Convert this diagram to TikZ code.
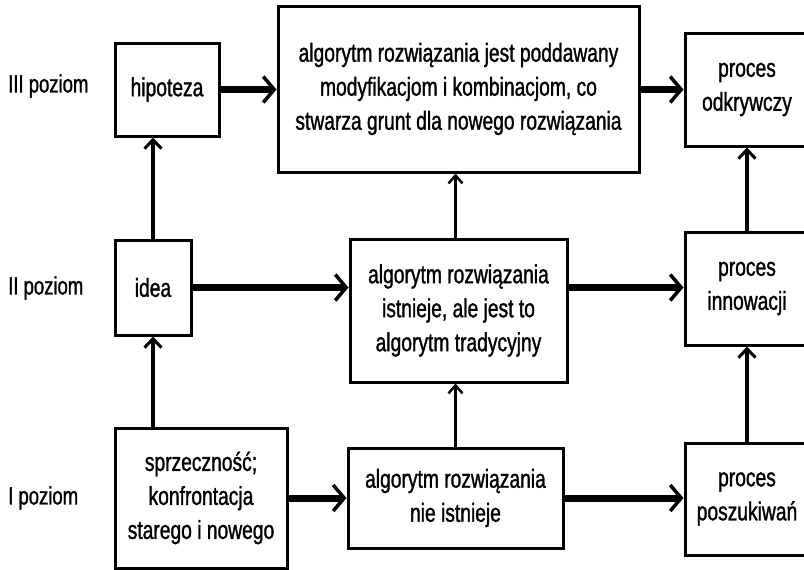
\documentclass[tikz,border=0pt]{standalone}
\usepackage{fontspec}
\setmainfont{Liberation Sans}[FakeStretch=0.74,FakeBold=1.2]
\usetikzlibrary{arrows.meta}
\begin{document}
\begin{tikzpicture}[x=1pt,y=-1pt,
  box/.style={draw,line width=3pt,inner sep=0pt,align=center,font=\fontsize{26}{34}\selectfont},
  lvl/.style={anchor=west,inner sep=0pt,font=\fontsize{25}{30}\selectfont},
  harr/.style={line width=7pt,-{Straight Barb[length=11pt,width=26pt,line width=3.5pt]}},
  varr/.style={line width=4.5pt,-{Straight Barb[length=9pt,width=17pt,line width=3pt]}},
  tarr/.style={line width=3pt,-{Straight Barb[length=8pt,width=14pt,line width=2.5pt]}}]
\useasboundingbox (0,0) rectangle (804,570);
\clip (0,0) rectangle (804,570);
% level labels
\node[lvl] (l3) at (8,86) {III poziom};
\node[lvl] (l2) at (8,288) {II poziom};
\node[lvl] (l1) at (8,498) {I poziom};
% boxes
\node[box,minimum width=104pt,minimum height=93pt] (hip) at (167,89.5) {hipoteza};
\node[box,minimum width=361pt,minimum height=166pt] (top) at (458.5,89) {algorytm rozwiązania jest poddawany\\modyfikacjom i kombinacjom, co\\stwarza grunt dla nowego rozwiązania};
\node[box,minimum width=124pt,minimum height=113pt] (odk) at (747,89.5) {proces\\odkrywczy};
\node[box,minimum width=76pt,minimum height=95pt] (idea) at (153,287.5) {idea};
\node[box,minimum width=217pt,minimum height=143pt] (mid) at (458.5,310.5) {algorytm rozwiązania\\istnieje, ale jest to\\algorytm tradycyjny};
\node[box,minimum width=124pt,minimum height=113pt] (inn) at (747,288.5) {proces\\innowacji};
\node[box,minimum width=172pt,minimum height=140pt] (spr) at (201,498) {sprzeczność;\\konfrontacja\\starego i nowego};
\node[box,minimum width=215pt,minimum height=100pt] (nie) at (455.5,498) {algorytm rozwiązania\\nie istnieje};
\node[box,minimum width=124pt,minimum height=112pt] (pos) at (747,499) {proces\\poszukiwań};
% horizontal arrows
\draw[harr] (hip.east) -- (top.west |- hip.east);
\draw[harr] (top.east |- odk.west) -- (odk.west);
\draw[harr] (idea.east) -- (mid.west |- idea.east);
\draw[harr] (mid.east |- idea.east) -- (inn.west |- idea.east);
\draw[harr] (spr.east) -- (nie.west);
\draw[harr] (nie.east) -- (pos.west |- nie.east);
% vertical arrows
\draw[varr] (spr.north -| idea.south) -- (idea.south);
\draw[varr] (idea.north) -- (hip.south -| idea.north);
\draw[tarr] (nie.north) -- (mid.south -| nie.north);
\draw[tarr] (mid.north -| nie.north) -- (top.south -| nie.north);
\draw[varr] (pos.north) -- (inn.south);
\draw[varr] (inn.north) -- (odk.south);
\end{tikzpicture}
\end{document}
